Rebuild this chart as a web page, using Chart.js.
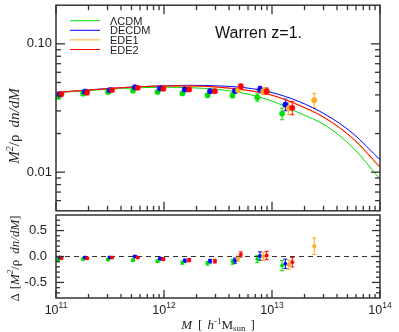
<!DOCTYPE html>
<html><head><meta charset="utf-8">
<script src="https://cdn.jsdelivr.net/npm/chart.js@4"></script>
<style>
html,body{margin:0;padding:0;background:#fff;}
#wrap{position:relative;width:399px;height:332px;overflow:hidden;}
canvas{position:absolute;left:0;}
#c1{top:0;} #c2{top:200px;}
</style></head><body>
<div id="wrap"><canvas id="c1" width="399" height="216"></canvas><canvas id="c2" width="399" height="132"></canvas></div>
<script>
// ---------- DATA ----------
const seriesNames = ['ΛCDM', 'DECDM', 'EDE1', 'EDE2'];
const panelLabel = 'Warren z=1.';

// model curves  M^2/rho dn/dM
const massCurve  = [1e11, 1.778e11, 3.162e11, 5.623e11, 1e12, 1.778e12, 3.162e12, 5.623e12, 1e13, 1.778e13, 3.162e13, 5.623e13, 1e14];
const curveLCDM  = [0.0416, 0.0430, 0.0444, 0.0454, 0.0459, 0.0455, 0.0441, 0.0410, 0.0358, 0.0290, 0.0230, 0.0155, 0.0088];
const curveDECDM = [0.0418, 0.0434, 0.0450, 0.0463, 0.0471, 0.0475, 0.0470, 0.0455, 0.0417, 0.0355, 0.0280, 0.0200, 0.0125];
const curveEDE1  = [0.0418, 0.0433, 0.0448, 0.0461, 0.0468, 0.0468, 0.0458, 0.0435, 0.0396, 0.0331, 0.0260, 0.0181, 0.0108];
const curveEDE2  = [0.0418, 0.0433, 0.0449, 0.0462, 0.0469, 0.0470, 0.0460, 0.0437, 0.0398, 0.0333, 0.0262, 0.0183, 0.0110];

// simulation points
const massLCDM  = [1.05e11, 1.78e11, 3.03e11, 5.16e11, 8.71e11, 1.48e12, 2.53e12, 4.31e12, 7.31e12, 1.24e13];
const valLCDM   = [0.0386, 0.0409, 0.0421, 0.0431, 0.0421, 0.0411, 0.0397, 0.0397, 0.0382, 0.0286];
const errLCDM   = [0.0004, 0.0004, 0.0004, 0.0005, 0.0006, 0.0008, 0.0012, 0.0018, 0.0025, 0.0030];
const dLCDM     = [-0.05, -0.05, -0.06, -0.07, -0.09, -0.12, -0.13, -0.10, -0.05, -0.175];
const dErrLCDM  = [0.025, 0.02, 0.02, 0.02, 0.025, 0.03, 0.035, 0.05, 0.07, 0.10];

const massDECDM = [1.08e11, 1.85e11, 3.14e11, 5.38e11, 9.18e11, 1.56e12, 2.67e12, 4.54e12, 7.74e12, 1.33e13];
const valDECDM  = [0.0404, 0.0424, 0.0436, 0.0459, 0.0449, 0.0441, 0.0428, 0.0430, 0.0441, 0.0336];
const errDECDM  = [0.0004, 0.0004, 0.0004, 0.0005, 0.0006, 0.0008, 0.0012, 0.0018, 0.0025, 0.0035];
const dDECDM    = [-0.02, -0.02, -0.02, 0.00, -0.04, -0.08, -0.09, -0.08, 0.01, -0.14];
const dErrDECDM = [0.02, 0.02, 0.02, 0.02, 0.025, 0.03, 0.035, 0.05, 0.08, 0.09];

const massEDE1  = [4.84e12, 8.30e12, 1.43e13, 2.46e13];
const valEDE1   = [0.0436, 0.0428, 0.0316, 0.0364];
const errEDE1   = [0.0018, 0.0025, 0.0035, 0.0047];
const dEDE1     = [-0.04, 0.00, -0.16, 0.20];
const dErrEDE1  = [0.05, 0.08, 0.09, 0.16];

const massEDE2  = [1.12e11, 1.94e11, 3.30e11, 5.71e11, 9.86e11, 1.71e12, 2.96e12, 5.14e12, 8.93e12, 1.54e13];
const valEDE2   = [0.0404, 0.0416, 0.0436, 0.0454, 0.0446, 0.0441, 0.0428, 0.0467, 0.0428, 0.0317];
const errEDE2   = [0.0004, 0.0004, 0.0004, 0.0005, 0.0006, 0.0008, 0.0012, 0.0018, 0.0025, 0.0037];
const dEDE2     = [-0.03, -0.035, -0.02, -0.02, -0.05, -0.07, -0.09, 0.04, 0.02, -0.11];
const dErrEDE2  = [0.02, 0.02, 0.02, 0.02, 0.025, 0.03, 0.035, 0.05, 0.08, 0.09];

// axes / ticks
const xMin = 1e11, xMax = 1e14;
const xMajorTicks = [1e11, 1e12, 1e13, 1e14];
const xTickExponents = ['11', '12', '13', '14'];
const yTopMin = 0.005, yTopMax = 0.2;
const yTopMajor = [0.01, 0.1];
const yTopLabels = ['0.01', '0.10'];
const yBotMin = -0.8, yBotMax = 0.8;
const yBotMajor = [-0.5, 0, 0.5];
const yBotLabels = ['-0.5', '0.0', '0.5'];

// ---------- STYLE ----------
const colors = ['#00dd00', '#0000ff', '#ffaa22', '#ff0000'];
const pointBorders = ['rgba(0,221,0,0.45)', 'rgba(0,0,255,0.45)', 'rgba(255,170,34,0.45)', 'rgba(255,0,0,0.45)'];
const FRAME = '#333';
const SANS = '"Liberation Sans", Arial, sans-serif';
const SERIF = '"Liberation Serif", "Times New Roman", serif';

const curves = [curveLCDM, curveDECDM, curveEDE1, curveEDE2];
const pts = [
  {m: massLCDM, v: valLCDM, e: errLCDM, d: dLCDM, de: dErrLCDM},
  {m: massDECDM, v: valDECDM, e: errDECDM, d: dDECDM, de: dErrDECDM},
  {m: massEDE1, v: valEDE1, e: errEDE1, d: dEDE1, de: dErrEDE1},
  {m: massEDE2, v: valEDE2, e: errEDE2, d: dEDE2, de: dErrEDE2}
];

function minorLog(lo, hi) {
  const out = [];
  for (let n = Math.floor(Math.log10(lo)); n <= Math.ceil(Math.log10(hi)); n++) {
    for (let k = 2; k <= 9; k++) { const v = k * Math.pow(10, n); if (v > lo * 1.0001 && v < hi * 0.9999) out.push(v); }
  }
  return out;
}

function line(ctx, x1, y1, x2, y2) { ctx.beginPath(); ctx.moveTo(x1, y1); ctx.lineTo(x2, y2); ctx.stroke(); }

function richText(ctx, pieces, x, y, align) {
  let w = 0;
  pieces.forEach(p => { ctx.font = p.f; p.w = ctx.measureText(p.t).width; w += p.w + (p.gap || 0); });
  let cx = align === 'center' ? x - w / 2 : x;
  pieces.forEach(p => { ctx.font = p.f; ctx.textAlign = 'left'; ctx.textBaseline = 'alphabetic'; ctx.fillText(p.t, cx, y + (p.dy || 0)); cx += p.w + (p.gap || 0); });
}

const errorBars = {
  id: 'errorBars',
  beforeDatasetsDraw(chart) {
    const {ctx, scales: {x, y}} = chart;
    ctx.save();
    ctx.lineWidth = 1;
    chart.data.datasets.forEach(ds => {
      if (!ds.err) return;
      ctx.strokeStyle = ds.pointBackgroundColor;
      ds.data.forEach((p, i) => {
        const px = x.getPixelForValue(p.x);
        const y1 = y.getPixelForValue(p.y - ds.err[i]);
        const y2 = y.getPixelForValue(p.y + ds.err[i]);
        line(ctx, px, y1, px, y2);
        line(ctx, px - 2, y1, px + 2, y1);
        line(ctx, px - 2, y2, px + 2, y2);
      });
    });
    ctx.restore();
  }
};

const frameTop = {
  id: 'frameTop',
  afterDraw(chart) {
    const {ctx, chartArea: a, scales: {x, y}} = chart;
    ctx.save();
    ctx.strokeStyle = FRAME; ctx.lineWidth = 1.3;
    const maj = 9, mnr = 5;
    xMajorTicks.forEach(v => { const p = x.getPixelForValue(v); line(ctx, p, a.bottom, p, a.bottom - maj); line(ctx, p, a.top, p, a.top + maj); });
    minorLog(xMin, xMax).forEach(v => { const p = x.getPixelForValue(v); line(ctx, p, a.bottom, p, a.bottom - mnr); line(ctx, p, a.top, p, a.top + mnr); });
    yTopMajor.forEach(v => { const p = y.getPixelForValue(v); line(ctx, a.left, p, a.left + maj, p); line(ctx, a.right, p, a.right - maj, p); });
    minorLog(yTopMin, yTopMax).forEach(v => { const p = y.getPixelForValue(v); line(ctx, a.left, p, a.left + mnr, p); line(ctx, a.right, p, a.right - mnr, p); });
    ctx.lineWidth = 1.5;
    ctx.strokeRect(a.left, a.top, a.right - a.left, a.bottom - a.top);
    // y tick labels
    ctx.fillStyle = '#222';
    ctx.font = '13px ' + SANS; ctx.textAlign = 'right'; ctx.textBaseline = 'middle';
    yTopMajor.forEach((v, i) => ctx.fillText(yTopLabels[i], a.left - 4, y.getPixelForValue(v)));
    // y title
    ctx.save();
    ctx.translate(19, (a.top + a.bottom) / 2 + 18);
    ctx.rotate(-Math.PI / 2);
    const it = 'italic 15px ' + SERIF, rm = '15px ' + SERIF, sup = 'italic 10px ' + SERIF;
    richText(ctx, [{t: 'M', f: it}, {t: '2', f: sup, dy: -6}, {t: '/ρ', f: rm, gap: 7}, {t: 'dn/dM', f: it}], 0, 0, 'center');
    ctx.restore();
    // legend
    const lx0 = a.left + 14, lx1 = a.left + 44, ly0 = a.top + 15.5, ldy = 9.6;
    seriesNames.forEach((n, i) => {
      ctx.strokeStyle = colors[i]; ctx.lineWidth = 1;
      line(ctx, lx0, ly0 + i * ldy, lx1, ly0 + i * ldy);
      ctx.fillStyle = '#222'; ctx.font = '11px ' + SANS; ctx.textAlign = 'left'; ctx.textBaseline = 'alphabetic';
      ctx.fillText(n, a.left + 54, ly0 + i * ldy + 4);
    });
    // panel label
    ctx.fillStyle = '#111'; ctx.font = '16px ' + SANS; ctx.textAlign = 'left'; ctx.textBaseline = 'alphabetic';
    ctx.fillText(panelLabel, 215, 37.5);
    ctx.restore();
  }
};

const frameBot = {
  id: 'frameBot',
  afterDraw(chart) {
    const {ctx, chartArea: a, scales: {x, y}} = chart;
    ctx.save();
    ctx.strokeStyle = FRAME; ctx.lineWidth = 1.3;
    const maj = 8, mnr = 4;
    xMajorTicks.forEach(v => { const p = x.getPixelForValue(v); line(ctx, p, a.bottom, p, a.bottom - maj); });
    minorLog(xMin, xMax).forEach(v => { const p = x.getPixelForValue(v); line(ctx, p, a.bottom, p, a.bottom - mnr); });
    for (let k = -7; k <= 7; k++) {
      const v = k / 10; const p = y.getPixelForValue(v);
      const len = (k % 5 === 0) ? maj : mnr;
      line(ctx, a.left, p, a.left + len, p); line(ctx, a.right, p, a.right - len, p);
    }
    ctx.lineWidth = 1.5;
    ctx.strokeRect(a.left, a.top, a.right - a.left, a.bottom - a.top);
    ctx.fillStyle = '#222';
    ctx.font = '13px ' + SANS; ctx.textAlign = 'right'; ctx.textBaseline = 'middle';
    yBotMajor.forEach((v, i) => ctx.fillText(yBotLabels[i], a.left - 9, y.getPixelForValue(v)));
    // x tick labels
    xMajorTicks.forEach((v, i) => {
      const p = x.getPixelForValue(v);
      richText(ctx, [{t: '10', f: '12.5px ' + SANS}, {t: xTickExponents[i], f: '8.5px ' + SANS, dy: -6}], p, a.bottom + 15.5, 'center');
    });
    // x title
    const it = 'italic 13px ' + SERIF, rm = '13px ' + SERIF, sm = '9px ' + SERIF, smi = '9px ' + SERIF;
    richText(ctx, [
      {t: 'M', f: it, gap: 6}, {t: '[', f: rm, gap: 5}, {t: 'h', f: it}, {t: '-1', f: smi, dy: -5},
      {t: 'M', f: rm}, {t: 'sun', f: sm, dy: 2, gap: 5}, {t: ']', f: rm}
    ], (a.left + a.right) / 2, a.bottom + 31, 'center');
    // y title
    ctx.save();
    ctx.translate(19, (a.top + a.bottom) / 2 + 2);
    ctx.rotate(-Math.PI / 2);
    const it2 = 'italic 13px ' + SERIF, rm2 = '13px ' + SERIF, sup2 = 'italic 8.5px ' + SERIF;
    richText(ctx, [{t: 'Δ', f: rm2, gap: 4}, {t: '[', f: rm2}, {t: 'M', f: it2}, {t: '2', f: sup2, dy: -6}, {t: '/ρ', f: rm2, gap: 6}, {t: 'dn/dM', f: it2}, {t: ']', f: rm2}], 0, 0, 'center');
    ctx.restore();
    ctx.restore();
  }
};

// ---------- TOP CHART ----------
const topSets = [];
curves.forEach((c, i) => {
  topSets.push({
    type: 'line', label: seriesNames[i], data: massCurve.map((m, j) => ({x: m, y: c[j]})),
    borderColor: colors[i], borderWidth: 1, pointRadius: 0, cubicInterpolationMode: 'monotone', fill: false, order: 20 - i
  });
});
pts.forEach((s, i) => {
  topSets.push({
    type: 'line', showLine: false, label: seriesNames[i] + ' sim',
    data: s.m.map((m, j) => ({x: m, y: s.v[j]})), err: s.e,
    pointRadius: 2.6, pointBorderWidth: 1.2, pointBackgroundColor: colors[i], pointBorderColor: pointBorders[i],
    borderColor: colors[i], order: 10 - i
  });
});

new Chart(document.getElementById('c1'), {
  data: {datasets: topSets},
  options: {
    responsive: false, animation: false, devicePixelRatio: 1,
    layout: {padding: {left: 56, right: 19, top: 3.5, bottom: 1}},
    plugins: {legend: {display: false}, tooltip: {enabled: false}},
    scales: {
      x: {type: 'logarithmic', min: xMin, max: xMax, display: false},
      y: {type: 'logarithmic', min: yTopMin, max: yTopMax, display: false}
    }
  },
  plugins: [errorBars, frameTop]
});

// ---------- BOTTOM CHART ----------
const botSets = [{
  type: 'line', label: 'zero', data: [{x: xMin, y: 0}, {x: xMax, y: 0}],
  borderColor: '#333', borderWidth: 1, borderDash: [5, 4], pointRadius: 0, order: 30
}];
pts.forEach((s, i) => {
  botSets.push({
    type: 'line', showLine: false, label: seriesNames[i] + ' diff',
    data: s.m.map((m, j) => ({x: m, y: s.d[j]})), err: s.de,
    pointRadius: 1.8, pointBorderWidth: 0.8, pointBackgroundColor: colors[i], pointBorderColor: pointBorders[i],
    borderColor: colors[i], order: 10 - i
  });
});

new Chart(document.getElementById('c2'), {
  data: {datasets: botSets},
  options: {
    responsive: false, animation: false, devicePixelRatio: 1,
    layout: {padding: {left: 56, right: 19, top: 15, bottom: 34}},
    plugins: {legend: {display: false}, tooltip: {enabled: false}},
    scales: {
      x: {type: 'logarithmic', min: xMin, max: xMax, display: false},
      y: {type: 'linear', min: yBotMin, max: yBotMax, display: false}
    }
  },
  plugins: [errorBars, frameBot]
});
</script>
</body></html>
